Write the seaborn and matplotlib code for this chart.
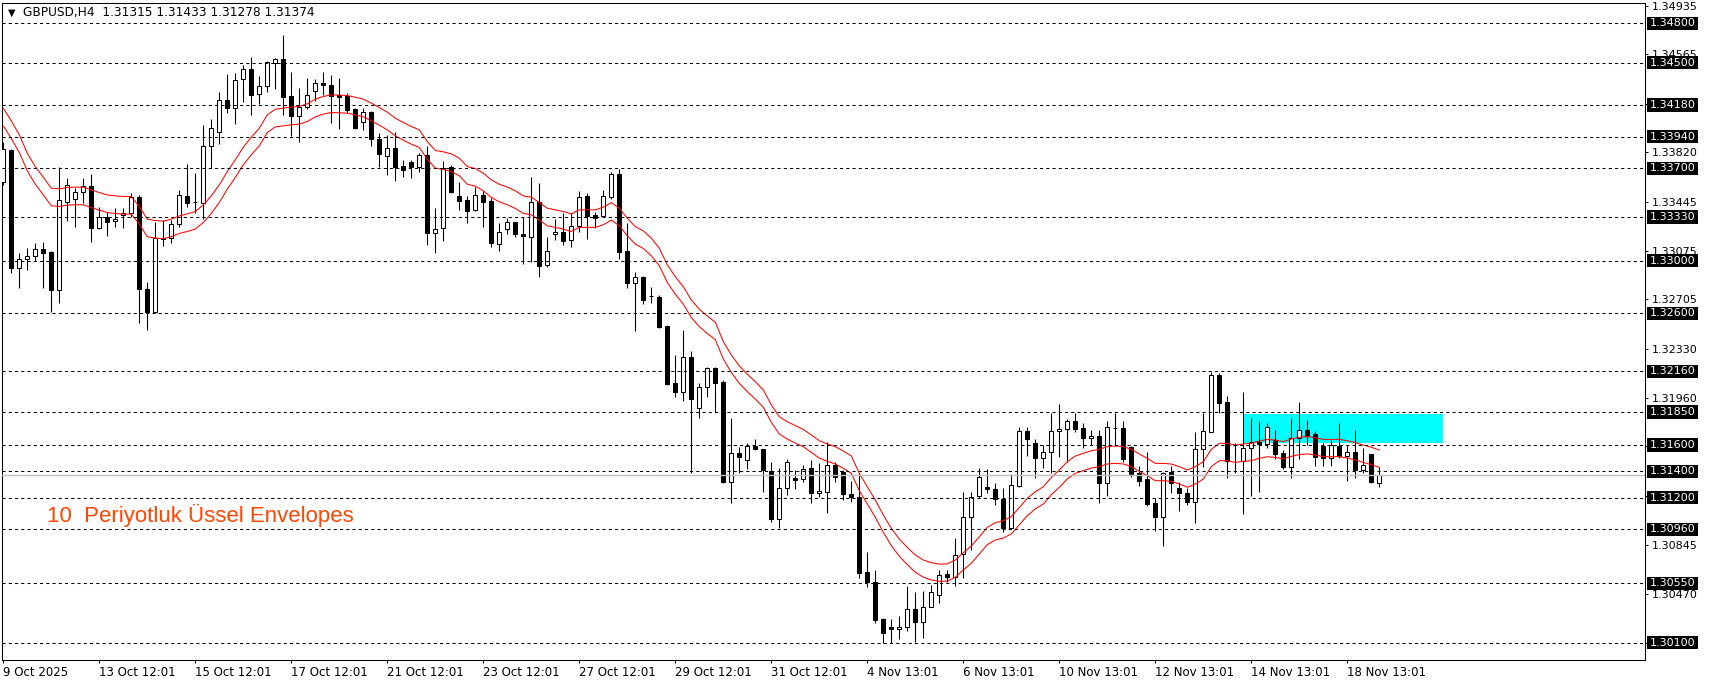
import numpy as np
import pandas as pd
import seaborn as sns
import matplotlib.pyplot as plt
from matplotlib.patches import Rectangle

# GBPUSD H4 - fiyatlar
symbol = "GBPUSD,H4"

opens = [
    1.33598, 1.33839, 1.32941, 1.33014, 1.33032, 1.33085, 1.33065, 1.32774, 1.33447, 1.33464,
    1.33517, 1.33563, 1.33244, 1.33333, 1.33297, 1.33348, 1.33363, 1.33484, 1.32781, 1.32612,
    1.33163, 1.33168, 1.33275, 1.33490, 1.33441, 1.33434, 1.33869, 1.33973, 1.34215, 1.34155,
    1.34375, 1.34451, 1.34263, 1.34322, 1.34501, 1.34527, 1.34246, 1.34099, 1.34162, 1.34284,
    1.34344, 1.34332, 1.34256, 1.34248, 1.34150, 1.34049, 1.34130, 1.33922, 1.33796, 1.33851,
    1.33717, 1.33748, 1.33712, 1.33798, 1.33206, 1.33244, 1.33707, 1.33490, 1.33459, 1.33381,
    1.33497, 1.33452, 1.33123, 1.33237, 1.33290, 1.33201, 1.33176, 1.33442, 1.32964, 1.33199,
    1.33216, 1.33156, 1.33262, 1.33490, 1.33345, 1.33338, 1.33485, 1.33657, 1.33072, 1.32829,
    1.32875, 1.32733, 1.32726, 1.32503, 1.32068, 1.32005, 1.32270, 1.31878, 1.32043, 1.32182,
    1.32076, 1.31317, 1.31537, 1.31486, 1.31593, 1.31567, 1.31405, 1.31041, 1.31271, 1.31352,
    1.31340, 1.31423, 1.31233, 1.31246, 1.31446, 1.31398, 1.31226, 1.31208, 1.30634, 1.30563,
    1.30277, 1.30217, 1.30202, 1.30217, 1.30353, 1.30260, 1.30374, 1.30462, 1.30621, 1.30601,
    1.30771, 1.31056, 1.31213, 1.31279, 1.31264, 1.31190, 1.30968, 1.31292, 1.31706, 1.31613,
    1.31499, 1.31545, 1.31706, 1.31719, 1.31782, 1.31727, 1.31651, 1.31669, 1.31314, 1.31729,
    1.31727, 1.31588, 1.31385, 1.31342, 1.31158, 1.31056, 1.31398, 1.31276, 1.31239, 1.31170,
    1.31567, 1.31701, 1.32131, 1.31926, 1.31600, 1.31479, 1.31575, 1.31626, 1.31605, 1.31638,
    1.31537, 1.31431, 1.31651, 1.31714, 1.31681, 1.31593, 1.31499, 1.31593, 1.31519, 1.31545,
    1.31411, 1.31532, 1.31315,
]
highs = [
    1.33902, 1.33844, 1.33055, 1.33098, 1.33130, 1.33143, 1.33075, 1.33712, 1.33624, 1.33548,
    1.33624, 1.33656, 1.33409, 1.33371, 1.33396, 1.33396, 1.33510, 1.33497, 1.32840, 1.33295,
    1.33307, 1.33307, 1.33535, 1.33732, 1.33662, 1.34028, 1.34074, 1.34279, 1.34415, 1.34420,
    1.34484, 1.34544, 1.34403, 1.34516, 1.34534, 1.34711, 1.34430, 1.34307, 1.34382, 1.34375,
    1.34428, 1.34408, 1.34382, 1.34274, 1.34160, 1.34160, 1.34137, 1.33970, 1.33952, 1.33978,
    1.33763, 1.33763, 1.33813, 1.33869, 1.33396, 1.33755, 1.33725, 1.33593, 1.33490, 1.33560,
    1.33528, 1.33477, 1.33282, 1.33320, 1.33295, 1.33333, 1.33631, 1.33586, 1.33181, 1.33313,
    1.33358, 1.33358, 1.33530, 1.33510, 1.33371, 1.33535, 1.33674, 1.33694, 1.33282, 1.32915,
    1.32885, 1.32797, 1.32738, 1.32511, 1.32283, 1.32473, 1.32313, 1.32068, 1.32190, 1.32190,
    1.32093, 1.31803, 1.31588, 1.31613, 1.31643, 1.31572, 1.31474, 1.31423, 1.31494, 1.31411,
    1.31448, 1.31486, 1.31461, 1.31620, 1.31474, 1.31411, 1.31327, 1.31390, 1.30786, 1.30652,
    1.30285, 1.30277, 1.30303, 1.30530, 1.30487, 1.30492, 1.30538, 1.30652, 1.30652, 1.30892,
    1.31246, 1.31246, 1.31423, 1.31416, 1.31309, 1.31271, 1.31380, 1.31739, 1.31739, 1.31643,
    1.31600, 1.31840, 1.31911, 1.31795, 1.31840, 1.31765, 1.31714, 1.31714, 1.31785, 1.31846,
    1.31785, 1.31593, 1.31441, 1.31550, 1.31196, 1.31398, 1.31441, 1.31322, 1.31271, 1.31701,
    1.31840, 1.32157, 1.32144, 1.31972, 1.31613, 1.32005, 1.31803, 1.31782, 1.31770, 1.31714,
    1.31562, 1.31803, 1.31929, 1.31790, 1.31706, 1.31613, 1.31638, 1.31765, 1.31600, 1.31714,
    1.31575, 1.31535, 1.31433,
]
lows = [
    1.33573, 1.32903, 1.32789, 1.32928, 1.32999, 1.32789, 1.32612, 1.32680, 1.33302, 1.33257,
    1.33434, 1.33143, 1.33239, 1.33189, 1.33257, 1.33244, 1.33333, 1.32523, 1.32473, 1.32605,
    1.33113, 1.33130, 1.33252, 1.33409, 1.33358, 1.33315, 1.33700, 1.33887, 1.34122, 1.34033,
    1.34205, 1.34107, 1.34190, 1.34276, 1.34304, 1.34104, 1.33947, 1.33902, 1.34147, 1.34210,
    1.34256, 1.34046, 1.33995, 1.34117, 1.33995, 1.33990, 1.33872, 1.33712, 1.33649, 1.33606,
    1.33636, 1.33629, 1.33672, 1.33118, 1.33055, 1.33151, 1.33515, 1.33383, 1.33287, 1.33378,
    1.33257, 1.33105, 1.33075, 1.33201, 1.33181, 1.32971, 1.32991, 1.32872, 1.32953, 1.33156,
    1.33118, 1.33100, 1.33219, 1.33163, 1.33244, 1.33333, 1.33464, 1.33009, 1.32789, 1.32468,
    1.32668, 1.32680, 1.32485, 1.32056, 1.31967, 1.31937, 1.31390, 1.31803, 1.31962, 1.31848,
    1.31312, 1.31163, 1.31385, 1.31416, 1.31562, 1.31246, 1.31019, 1.30968, 1.31221, 1.31264,
    1.31322, 1.31163, 1.31203, 1.31082, 1.31322, 1.31183, 1.31170, 1.30589, 1.30525, 1.30252,
    1.30095, 1.30095, 1.30128, 1.30191, 1.30108, 1.30133, 1.30370, 1.30404, 1.30563, 1.30530,
    1.30589, 1.30804, 1.31196, 1.31233, 1.31145, 1.30943, 1.30963, 1.31284, 1.31517, 1.31347,
    1.31423, 1.31385, 1.31512, 1.31474, 1.31701, 1.31575, 1.31600, 1.31158, 1.31213, 1.31595,
    1.31474, 1.31360, 1.31289, 1.31137, 1.30950, 1.30836, 1.31239, 1.31102, 1.31145, 1.31006,
    1.31431, 1.31700, 1.31840, 1.31352, 1.31385, 1.31074, 1.31213, 1.31246, 1.31575, 1.31491,
    1.31418, 1.31352, 1.31491, 1.31600, 1.31441, 1.31441, 1.31441, 1.31499, 1.31330, 1.31347,
    1.31390, 1.31309, 1.31278,
]
closes = [
    1.33844, 1.32941, 1.33009, 1.33032, 1.33085, 1.33055, 1.32774, 1.33457, 1.33570, 1.33517,
    1.33563, 1.33249, 1.33330, 1.33295, 1.33312, 1.33363, 1.33484, 1.32781, 1.32609, 1.33168,
    1.33168, 1.33275, 1.33495, 1.33434, 1.33443, 1.33866, 1.34003, 1.34215, 1.34155, 1.34367,
    1.34451, 1.34258, 1.34322, 1.34504, 1.34527, 1.34238, 1.34099, 1.34167, 1.34253, 1.34344,
    1.34329, 1.34248, 1.34243, 1.34142, 1.34008, 1.34124, 1.33920, 1.33806, 1.33851, 1.33707,
    1.33687, 1.33712, 1.33798, 1.33206, 1.33237, 1.33700, 1.33522, 1.33454, 1.33378, 1.33495,
    1.33447, 1.33130, 1.33219, 1.33290, 1.33199, 1.33184, 1.33442, 1.32961, 1.33075, 1.33216,
    1.33151, 1.33262, 1.33479, 1.33338, 1.33320, 1.33490, 1.33657, 1.33067, 1.32827, 1.32872,
    1.32698, 1.32731, 1.32498, 1.32063, 1.32005, 1.32270, 1.31947, 1.32043, 1.32182, 1.32073,
    1.31317, 1.31537, 1.31507, 1.31593, 1.31567, 1.31411, 1.31041, 1.31271, 1.31474, 1.31335,
    1.31418, 1.31233, 1.31254, 1.31446, 1.31360, 1.31226, 1.31203, 1.30626, 1.30558, 1.30272,
    1.30171, 1.30202, 1.30217, 1.30353, 1.30260, 1.30374, 1.30482, 1.30614, 1.30596, 1.30766,
    1.31056, 1.31208, 1.31355, 1.31264, 1.31188, 1.30968, 1.31297, 1.31706, 1.31643, 1.31499,
    1.31545, 1.31706, 1.31722, 1.31782, 1.31722, 1.31651, 1.31669, 1.31314, 1.31734, 1.31727,
    1.31491, 1.31380, 1.31330, 1.31153, 1.31056, 1.31385, 1.31309, 1.31233, 1.31170, 1.31567,
    1.31706, 1.32131, 1.31916, 1.31481, 1.31598, 1.31575, 1.31626, 1.31605, 1.31734, 1.31532,
    1.31431, 1.31651, 1.31714, 1.31669, 1.31512, 1.31499, 1.31600, 1.31517, 1.31545, 1.31411,
    1.31448, 1.31322, 1.31374,
]

# 10 periyot EMA (envelope orta cizgisi)
ema_mid = [
    1.34089, 1.33993, 1.33887, 1.33748, 1.33646, 1.33565, 1.33482, 1.33477, 1.33487, 1.33490,
    1.33490, 1.33469, 1.33449, 1.33431, 1.33424, 1.33419, 1.33419, 1.33343, 1.33247, 1.33237,
    1.33232, 1.33247, 1.33272, 1.33287, 1.33305, 1.33355, 1.33424, 1.33507, 1.33608, 1.33697,
    1.33793, 1.33869, 1.33937, 1.34038, 1.34081, 1.34089, 1.34097, 1.34102, 1.34122, 1.34157,
    1.34178, 1.34190, 1.34188, 1.34185, 1.34172, 1.34157, 1.34127, 1.34094, 1.34059, 1.34013,
    1.33980, 1.33950, 1.33925, 1.33836, 1.33768, 1.33758, 1.33742, 1.33710, 1.33646, 1.33631,
    1.33596, 1.33545, 1.33512, 1.33490, 1.33462, 1.33424, 1.33414, 1.33373, 1.33330, 1.33318,
    1.33305, 1.33287, 1.33318, 1.33318, 1.33318, 1.33338, 1.33373, 1.33330, 1.33254, 1.33191,
    1.33158, 1.33103, 1.33027, 1.32900, 1.32811, 1.32735, 1.32634, 1.32564, 1.32513, 1.32465,
    1.32319, 1.32217, 1.32134, 1.32071, 1.32015, 1.31952, 1.31838, 1.31749, 1.31711, 1.31681,
    1.31653, 1.31610, 1.31567, 1.31542, 1.31522, 1.31489, 1.31451, 1.31319, 1.31218, 1.31117,
    1.31003, 1.30902, 1.30821, 1.30758, 1.30700, 1.30662, 1.30642, 1.30631, 1.30633, 1.30662,
    1.30718, 1.30768, 1.30839, 1.30910, 1.30945, 1.30960, 1.30991, 1.31061, 1.31130, 1.31181,
    1.31218, 1.31289, 1.31345, 1.31408, 1.31451, 1.31471, 1.31491, 1.31502, 1.31522, 1.31527,
    1.31522, 1.31502, 1.31466, 1.31433, 1.31395, 1.31395, 1.31390, 1.31370, 1.31345, 1.31370,
    1.31408, 1.31502, 1.31547, 1.31547, 1.31534, 1.31542, 1.31547, 1.31565, 1.31577, 1.31572,
    1.31560, 1.31580, 1.31593, 1.31598, 1.31590, 1.31577, 1.31577, 1.31577, 1.31567, 1.31552,
    1.31534, 1.31517, 1.31496,
]
env_deviation = 0.0005  # %0.05

# yatay seviyeler
levels = [1.34800, 1.34500, 1.34180, 1.33940, 1.33700, 1.33330, 1.33000, 1.32600,
          1.32160, 1.31850, 1.31600, 1.31400, 1.31200, 1.30960, 1.30550, 1.30100]
price_ticks = [1.34935, 1.34565, 1.34190, 1.33820, 1.33445, 1.33075, 1.32705, 1.32330,
               1.31960, 1.31590, 1.31215, 1.30845, 1.30470, 1.30095]

date_labels = ["9 Oct 2025", "13 Oct 12:01", "15 Oct 12:01", "17 Oct 12:01", "21 Oct 12:01",
               "23 Oct 12:01", "27 Oct 12:01", "29 Oct 12:01", "31 Oct 12:01", "4 Nov 13:01",
               "6 Nov 13:01", "10 Nov 13:01", "12 Nov 13:01", "14 Nov 13:01", "18 Nov 13:01"]
bars_per_label = 12

# bolge (cyan dikdortgen)
zone_low, zone_high = 1.31613, 1.31835
zone_from, zone_to = 155, 180

note_text = "10  Periyotluk Üssel Envelopes"

df = pd.DataFrame({"bar": np.arange(len(closes)), "open": opens, "high": highs,
                   "low": lows, "close": closes, "ema": ema_mid})
df["upper"] = df["ema"] * (1 + env_deviation)
df["lower"] = df["ema"] * (1 - env_deviation)

sns.set_style("white")
plt.rcParams["font.family"] = ["DejaVu Sans"]

fig = plt.figure(figsize=(17.09, 6.84), dpi=100)
ax = fig.add_axes([2 / 1709, 24 / 684, 1643 / 1709, 657.3 / 684])

# zone
ax.add_patch(Rectangle((zone_from, zone_low), zone_to - zone_from, zone_high - zone_low,
                       facecolor="#00ffff", edgecolor="none", zorder=1))

# mumlar
ax.vlines(df["bar"], df["low"], df["high"], color="black", linewidth=0.75, zorder=2)
up = df["close"] >= df["open"]
body_colors = np.where(up, "white", "black")
ax.bar(df["bar"], df["close"] - df["open"], bottom=df["open"], width=0.5,
       color=body_colors, edgecolor="black", linewidth=0.75, zorder=3)

# envelopes
sns.lineplot(data=df, x="bar", y="upper", color="red", linewidth=0.75, ax=ax, zorder=4)
sns.lineplot(data=df, x="bar", y="lower", color="red", linewidth=0.75, ax=ax, zorder=4)

# seviyeler
for lv in levels:
    ax.axhline(lv, color="black", linewidth=0.75, linestyle=(0, (3, 3)), zorder=5)
ax.axhline(closes[-1], color="#c0c0c0", linewidth=1.0, zorder=5)

ax.set_xlim(-0.1625, 205.2)
ax.set_ylim(1.299688, 1.349563)

# sag eksen
ax.yaxis.tick_right()
ax.set_yticks(price_ticks)
ax.set_yticklabels([f"{t:.5f}" for t in price_ticks])
ax.tick_params(axis="y", which="both", right=True, left=False, length=2.5, width=0.75,
               pad=2.5, labelsize=8, colors="black")
box_h = 13.3 / 13179
for lv in levels:
    ax.add_patch(Rectangle((1.0012, lv - box_h / 2), 51 / 1643, box_h,
                           transform=ax.get_yaxis_transform(), facecolor="black",
                           edgecolor="none", clip_on=False, zorder=6))
    ax.text(1.0012 + 25.5 / 1643, lv, f"{lv:.5f}", transform=ax.get_yaxis_transform(),
            ha="center", va="center", fontsize=8, color="white", clip_on=False, zorder=7)

# alt eksen
ticks_x = [i * bars_per_label for i in range(len(date_labels))]
ax.set_xticks(ticks_x)
ax.set_xticklabels(date_labels)
for lab in ax.get_xticklabels():
    lab.set_horizontalalignment("left")
ax.tick_params(axis="x", bottom=True, length=2.5, width=0.75, pad=2, labelsize=8.5,
               colors="black")
ax.set_xlabel("")
ax.set_ylabel("")

for sp in ax.spines.values():
    sp.set_visible(True)
    sp.set_color("black")
    sp.set_linewidth(0.75)

# baslik
ax.text(0.0035, 0.9848, "\u25bc", transform=ax.transAxes, fontsize=7, va="center",
        ha="left", color="black", zorder=8)
header = f"{symbol}  {opens[-1]:.5f} {highs[-1]:.5f} {lows[-1]:.5f} {closes[-1]:.5f}"
ax.text(0.0125, 0.9848, header, transform=ax.transAxes, fontsize=8.7, va="center",
        ha="left", color="black", zorder=8)

ax.text(0.0272, 0.2104, note_text, transform=ax.transAxes, fontsize=16,
        family=["Liberation Sans", "DejaVu Sans"], color="#ff4500", va="baseline",
        ha="left", zorder=8)

fig.savefig("out.png", dpi=100)
